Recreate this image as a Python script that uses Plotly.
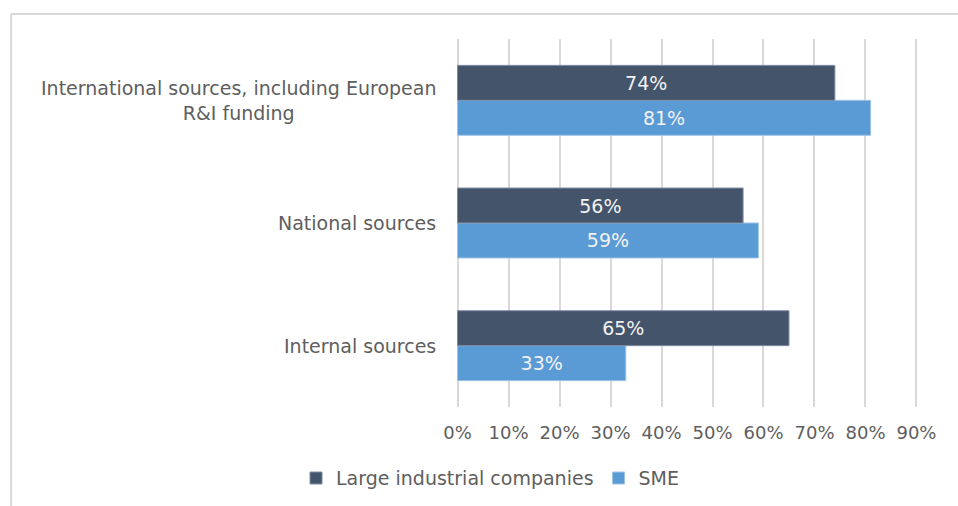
import plotly.graph_objects as go

categories = ["Internal sources", "National sources",
              "International sources, including European<br>R&I funding"]
large_values = [0.65, 0.56, 0.74]
sme_values = [0.33, 0.59, 0.81]
x_ticks = [0, 0.1, 0.2, 0.3, 0.4, 0.5, 0.6, 0.7, 0.8, 0.9]
x_tick_labels = ["0%", "10%", "20%", "30%", "40%", "50%", "60%", "70%", "80%", "90%"]

FONT = "'DejaVu Sans', sans-serif"
SIZE = 19
GREY = "#5E5E5E"
DARK = "#44546A"
LIGHT = "#5B9BD5"

fig = go.Figure()
# SME trace first so it sits below the large-company bar in each group
fig.add_trace(go.Bar(
    y=categories, x=sme_values, orientation="h", name="SME",
    marker=dict(color=LIGHT, line=dict(color="#9DC3E6", width=1)),
    text=[f"{round(v * 100)}%" for v in sme_values],
    textposition="inside", insidetextanchor="middle",
    textfont=dict(color="#F2F2F2", size=SIZE, family=FONT),
    legendrank=2,
))
fig.add_trace(go.Bar(
    y=categories, x=large_values, orientation="h", name="Large industrial companies",
    marker=dict(color=DARK, line=dict(color="#7F8EA6", width=1)),
    text=[f"{round(v * 100)}%" for v in large_values],
    textposition="inside", insidetextanchor="middle",
    textfont=dict(color="#F2F2F2", size=SIZE, family=FONT),
    legendrank=1,
))

# category labels, centred line-by-line and right-aligned against the axis
for cat in categories:
    fig.add_annotation(
        x=-0.04, xref="paper", y=cat, yref="y",
        text=cat, showarrow=False, xanchor="right", align="center",
        font=dict(size=SIZE, color=GREY, family=FONT),
    )

# outer chart frame (top and left edges fall inside the page)
frame = dict(color="#D9D9D9", width=2)
fig.add_shape(type="line", xref="paper", yref="paper",
              x0=-0.963, x1=1.3, y0=1.068, y1=1.068, line=frame, layer="below")
fig.add_shape(type="line", xref="paper", yref="paper",
              x0=-0.963, x1=-0.963, y0=1.068, y1=-0.5, line=frame, layer="below")

fig.update_layout(
    width=958, height=506,
    margin=dict(l=456, r=40, t=39, b=99, autoexpand=False),
    paper_bgcolor="white", plot_bgcolor="white",
    barmode="group", bargap=0.43, bargroupgap=0,
    font=dict(family=FONT, color=GREY, size=SIZE),
    xaxis=dict(range=[-0.003, 0.903], tickvals=x_ticks, ticktext=x_tick_labels,
               showgrid=True, gridcolor="#D9D9D9", gridwidth=2,
               zeroline=False, showline=False, ticks="", automargin=False,
               tickfont=dict(size=18, color=GREY, family=FONT), ticklabelstandoff=13),
    yaxis=dict(showticklabels=False, showgrid=False, zeroline=False, automargin=False,
               categoryorder="array", categoryarray=categories),
    legend=dict(orientation="h", xref="container", yref="container",
                x=0.309, xanchor="left", y=0.055, yanchor="middle",
                font=dict(size=SIZE, color=GREY, family=FONT),
                itemwidth=30, traceorder="normal"),
    showlegend=True,
)

fig.write_html("out.html")
